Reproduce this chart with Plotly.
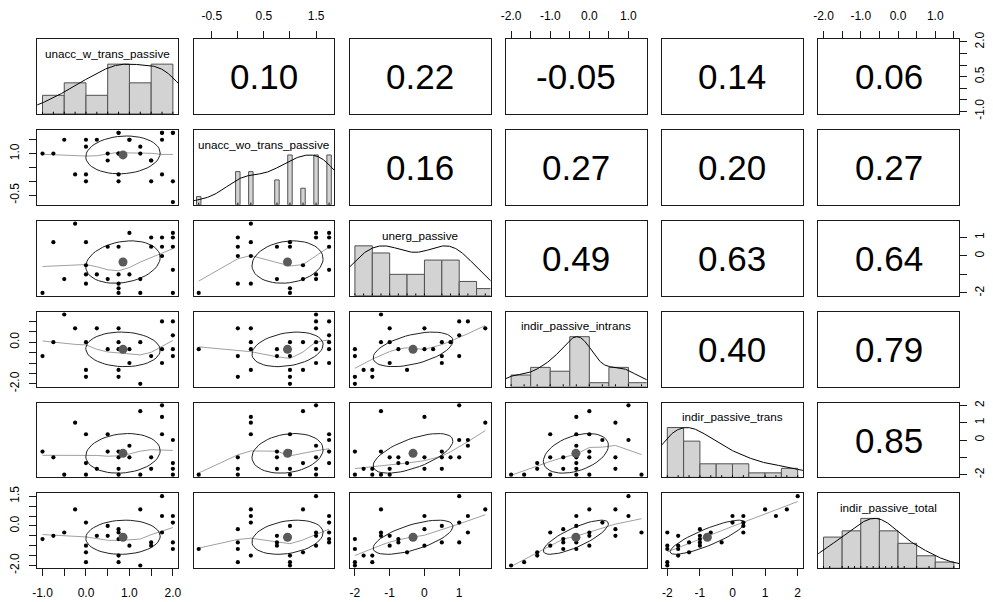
import numpy as np
import plotly.graph_objects as go

# ---------------- data ----------------
var_names = ["unacc_w_trans_passive", "unacc_wo_trans_passive", "unerg_passive",
             "indir_passive_intrans", "indir_passive_trans", "indir_passive_total"]

unacc_w_trans_passive = [-1, -0.75, -0.5, -0.25, 0, 0, 0, 0, 0.25, 0.5, 0.5,
                         0.75, 0.75, 0.75, 0.75, 0.75, 0.75, 1, 1, 1.25, 1.25,
                         1.5, 1.5, 1.5, 1.75, 1.75, 1.75, 1.75, 2, 2, 2, 2]
unacc_wo_trans_passive = [-0.75, 0, 0, 0, 0, 0.25, 0.25, 0.25, 0.25, 0.75, 0.75, 0.75,
                          1, 1, 1, 1, 1, 1, 1.25, 1.25, 1.5, 1.5, 1.5, 1.5, 1.5, 1.5,
                          1.75, 1.75, 1.75, 1.75, 1.75, 1.75]
unerg_passive = [-2, -2, -2, -2, -1.75, -1.5, -1.5, -1.25, -1.25, -1.25, -1, -1, -1,
                 -0.75, -0.75, -0.5, -0.25, 0, 0, 0.5, 0.5, 0.5, 0.5, 0.5, 0.75, 0.75,
                 1, 1, 1, 1.25, 1.25, 1.75]
indir_passive_intrans = [-2, -2, -1.667, -1.333, -1.333, -1, -1, -1, -0.667, -0.667, -0.667,
                         -0.667, -0.333, -0.333, -0.333, -0.333, -0.333, -0.333, -0.333,
                         -0.333, 0, 0, 0, 0, 0, 0.333, 0.667, 0.667, 0.667, 1, 1, 1.333]
indir_passive_trans = [-2, -2, -2, -2, -2, -2, -1.667, -1.667, -1.667, -1.667, -1.667,
                       -1.333, -1.333, -1.333, -1, -1, -1, -1, -1, -0.667, -0.667, -0.667,
                       -0.333, 0, 0, 0.333, 0.333, 0.333, 1, 1.333, 1.667, 2]
indir_passive_total = [-2, -2, -1.833, -1.833, -1.5, -1.333, -1.333, -1.167, -1.167, -1, -1,
                       -0.833, -0.833, -0.833, -0.667, -0.667, -0.5, -0.5, -0.5, -0.333,
                       -0.333, -0.333, -0.167, -0.167, 0, 0.167, 0.167, 0.5, 0.5, 0.833,
                       0.833, 1.5]

# correlations, upper triangle read row by row
corr_labels = ["0.10", "0.22", "-0.05", "0.14", "0.06",
               "0.16", "0.27", "0.20", "0.27",
               "0.49", "0.63", "0.64",
               "0.40", "0.79",
               "0.85"]

# scatter panels: (x = column variable, y = row variable); repeated pairs are overlapping cases
pts_2_1 = [(-1, 1), (-0.75, 1), (-0.5, 1.5), (-0.25, 0.25), (0, 1.5), (0, 1.25), (0, 0.25),
           (0, 0), (0.25, 1.5), (0.5, 1), (0.5, 0.75), (0.75, 1.75), (0.75, 1.75), (0.75, 1),
           (0.75, 1), (0.75, 0.25), (0.75, 0), (1, 1.5), (1, 1.5), (1.25, 1.25), (1.25, 1),
           (1.5, 0.75), (1.5, 0.75), (1.5, 0), (1.75, 1.75), (1.75, 1.75), (1.75, 1.5),
           (1.75, 0.25), (2, 1.75), (2, 1.75), (2, 0), (2, -0.75)]
pts_3_1 = [(-1, -2), (-0.75, 0.75), (-0.5, -1.25), (-0.25, 1.75), (0, 0.75), (0, -0.5),
           (0, -1), (0, -1.5), (0.25, -1), (0.5, 0.5), (0.5, -1.25), (0.75, 0.5), (0.75, -1),
           (0.75, -1.5), (0.75, -1.75), (0.75, -2), (1, 1.25), (1, -1), (1.25, -1.25),
           (1.25, -2), (1.5, 1), (1.5, 0.5), (1.75, 1), (1.75, 0.5), (1.75, 0), (2, 1.25),
           (2, 1), (2, 0.5), (2, -0.75), (2, -2)]
pts_3_2 = [(0.25, 1.75), (0, 1), (0, 0.5), (0.25, 0.75), (0, 0), (0.25, 0), (0.75, 0.5),
           (1, 0.75), (1, 0.5), (1.5, 1.25), (1.5, 1), (1.75, 1.25), (1.75, 1), (1.75, 0.5),
           (1.25, -0.5), (1.5, -1), (1.5, -1.25), (1.75, -0.75), (0.75, -1.25), (1.25, -1.25),
           (0, -1.5), (0.25, -1.5), (1, -1.75), (1, -2), (-0.75, -2)]
pts_4_1 = [(-0.5, 1.333), (-0.25, 0.667), (0.25, 0.667), (0.75, 0.667), (-0.75, 0), (0, 0),
           (0.5, -0.333), (0.75, 0), (0.75, -0.333), (1, -0.333), (1.25, 0), (1.5, -0.667),
           (1.75, -0.333), (1.75, 1), (2, 1), (2, 0.333), (2, -0.333), (2, -0.667),
           (-1, -0.667), (1, -1), (1.75, -1), (0, -1.333), (0, -1.667), (0.75, -1.333),
           (0.75, -1.667), (1.25, -2)]
pts_4_2 = [(-0.75, -0.333), (0, 0.667), (0.25, 0.667), (0, -0.667), (0, -1.667), (0.25, 0),
           (0.25, -0.333), (0.25, -1.333), (0.75, -0.333), (0.75, -0.667), (1, 0), (1, -0.667),
           (1, -1.333), (1, -1.667), (1, -2), (1.25, 0), (1.25, -1.333), (1.5, 1.333), (1.5, 1),
           (1.5, 0.667), (1.5, 0), (1.5, -0.333), (1.5, -1), (1.75, 1), (1.75, 0.333),
           (1.75, 0), (1.75, -0.333), (1.75, -1)]
pts_4_3 = [(-1.25, 1.333), (-1, 0.667), (0, 0.667), (1, 1), (1.25, 1), (1.75, 0.667),
           (1, 0.333), (-1.25, 0), (-1, 0), (-0.75, -0.333), (0, -0.333), (0.25, -0.333),
           (0.5, 0), (0.75, 0), (-2, -0.333), (-2, -0.667), (0.5, -0.667), (1, -0.667),
           (0.5, -1), (-1, -1), (-1.75, -1.333), (-1.5, -1.333), (-1.5, -1.667),
           (-0.5, -1.333), (-2, -1.667), (-2, -2)]
pts_5_1 = [(1.75, 2), (1.25, 1.667), (1.75, 1.333), (-0.25, 1), (1.75, 0.333), (0, 0.333),
           (0.5, 0.333), (2, 0), (1, -0.333), (-1, -0.667), (0.5, -0.667), (0.75, -0.667),
           (-0.75, -1), (0.75, -1), (1, -1), (1.5, -1), (0, -1.333), (2, -1.333),
           (0.25, -1.667), (0.75, -1.667), (1.5, -1.667), (2, -1.667), (-0.5, -2), (0, -2),
           (0.75, -2), (1.25, -2), (2, -2)]
pts_5_2 = [(1.5, 2), (1.25, 1.667), (0.25, 1.333), (0.25, 1), (0.25, 0.333), (1, 0.333),
           (1.75, 0.333), (1.75, 0), (1.5, -0.333), (0.75, -0.667), (1, -0.667),
           (1.75, -0.667), (0, -1), (0.75, -1), (1.5, -1), (1.75, -1.333), (1.25, -1.333),
           (0, -1.667), (0.75, -1.667), (1, -1.667), (1.5, -1.667), (-0.75, -2), (0, -2),
           (1, -2), (1.5, -2)]
pts_5_3 = [(1, 2), (-1.25, 1.667), (0, 1.333), (1.75, 1), (1, 0), (1.25, 0), (1.25, -0.333),
           (0.5, -0.667), (-2, -0.667), (-1.25, -0.667), (0.5, -1), (0, -1), (-1, -1),
           (-0.75, -1), (0.75, -1), (1, -1), (-0.75, -1.333), (-0.5, -1.333), (0.5, -1.667),
           (0, -1.667), (-1.75, -1.667), (-1.5, -1.667), (-1, -1.667), (-2, -2), (-1.5, -2),
           (-1.25, -2), (-1, -2)]
pts_5_4 = [(-2, -2), (-1.667, -2), (-1.333, -1.333), (-1.333, -1.667), (-1, -1), (-1, -2),
           (-1, 0.333), (-0.667, -1), (-0.667, -1.667), (-0.333, 1.333), (-0.333, 0.333),
           (-0.333, -0.333), (-0.333, -0.667), (-0.333, -1), (-0.333, -1.333),
           (-0.333, -1.667), (-0.333, -2), (0, 1.667), (0, 0.333), (0, -0.667), (0, -1),
           (0, -2), (0.333, 0), (0.667, 1), (0.667, -1), (0.667, -1.667), (1, 2), (1, 0),
           (1.333, -2)]
pts_6_1 = [(1.75, 1.5), (1.25, 0.833), (-0.25, 0.833), (1.75, 0.5), (2, 0.5), (0, 0.167),
           (2, 0.167), (0.5, 0), (0.75, -0.167), (-0.5, -0.333), (1.75, -0.333),
           (0.75, -0.333), (-0.75, -0.5), (0.25, -0.5), (0.5, -0.5), (1, -1), (-1, -0.667),
           (0.75, -0.667), (1.5, -0.833), (2, -0.833), (0, -1), (1.5, -1), (2, -1.167),
           (0, -1.333), (0.75, -1.5), (0, -1.833), (0.75, -1.833), (1.25, -2)]
pts_6_2 = [(1.5, 1.5), (1.25, 0.833), (0.25, 0.833), (0.25, 0.5), (0.25, 0.167), (1.75, 0.5),
           (1.75, 0.167), (1.75, -0.333), (1.75, -0.667), (1.75, -0.833), (1.5, -0.333),
           (1.5, -0.5), (1.5, -1), (1, 0), (1, -1.5), (1, -1.833), (1, -2), (0.75, -0.5),
           (0.75, -0.833), (0.75, -1), (1.25, -1.333), (0, -0.167), (0, -0.833), (0, -1.167),
           (0, -1.833), (0.25, -1.5), (-0.75, -1.167)]
pts_6_3 = [(1, 1.5), (1.75, 0.833), (-1.25, 0.833), (0, 0.5), (1.25, 0.5), (0.5, 0),
           (1, 0.167), (-1.25, -0.333), (-1.25, -0.5), (-1, -0.5), (-0.75, -0.667),
           (-0.75, -0.833), (0, -0.167), (0.5, -0.833), (1.25, -0.333), (1, -0.833), (-1, -1),
           (0, -1), (-0.5, -1.333), (-2, -0.667), (-2, -1.167), (-1.75, -1.5), (-1.5, -1.5),
           (-1.5, -1.833), (-2, -1.833), (-2, -2)]
pts_6_4 = [(-2, -2), (-1.667, -1.833), (-1.333, -1.333), (-1.333, -1.5), (-1, -0.333),
           (-1, -1), (-0.667, -0.167), (-0.667, -0.667), (-0.667, -0.833), (-0.667, -1.167),
           (-0.333, 0.5), (-0.333, 0), (-0.333, -0.5), (-0.333, -0.667), (-0.333, -0.833),
           (-0.333, -1.167), (0, 0.833), (0, -0.333), (0, -0.5), (0, -1), (0.333, 0.167),
           (0.667, 0.833), (0.667, -0.167), (0.667, -0.5), (1, 1.5), (1, 0.5), (1.333, -0.333)]
pts_6_5 = [(-2, -0.333), (-2, -1), (-2, -1.167), (-2, -1.833), (-2, -2), (-1.667, -0.5),
           (-1.667, -1), (-1.667, -1.167), (-1.667, -1.5), (-1.333, -0.833), (-1.333, -1.333),
           (-1, -0.167), (-1, -0.5), (-1, -0.667), (-1, -0.833), (-1, -1), (-0.667, -0.333),
           (-0.333, -0.833), (0, 0.5), (0, 0.167), (0.333, 0.5), (0.333, 0.167), (0.333, 0),
           (0.333, -0.333), (1, 0.833), (1.333, 0.5), (1.667, 0.833), (2, 1.5)]

hist_step = 0.5

# ---------------- helpers ----------------
data = [np.array(v, float) for v in [unacc_w_trans_passive, unacc_wo_trans_passive, unerg_passive,
                                     indir_passive_intrans, indir_passive_trans, indir_passive_total]]
panels = {(2, 1): pts_2_1, (3, 1): pts_3_1, (3, 2): pts_3_2, (4, 1): pts_4_1, (4, 2): pts_4_2,
          (4, 3): pts_4_3, (5, 1): pts_5_1, (5, 2): pts_5_2, (5, 3): pts_5_3, (5, 4): pts_5_4,
          (6, 1): pts_6_1, (6, 2): pts_6_2, (6, 3): pts_6_3, (6, 4): pts_6_4, (6, 5): pts_6_5}

corr = {}
kk = 0
for i in range(6):
    for j in range(i + 1, 6):
        corr[(i, j)] = corr_labels[kk]
        kk += 1


def vrange(v):
    lo, hi = float(np.min(v)), float(np.max(v))
    s = hi - lo
    return [lo - 0.04 * s, hi + 0.04 * s]


def r_lowess(x, y, f=2 / 3, iters=3):
    x = np.asarray(x, float)
    y = np.asarray(y, float)
    o = np.argsort(x, kind="mergesort")
    x, y = x[o], y[o]
    n = len(x)
    ns = max(min(int(f * n + 1e-7), n), 2)
    rw = np.ones(n)
    ys = np.zeros(n)
    xr = x[-1] - x[0]
    for it in range(iters + 1):
        nleft, nright = 0, ns - 1
        for i in range(n):
            while nright < n - 1 and (x[i] - x[nleft]) > (x[nright + 1] - x[i]):
                nleft += 1
                nright += 1
            h = max(x[i] - x[nleft], x[nright] - x[i])
            d = np.abs(x - x[i])
            if h > 0:
                q = d / h
                w = np.where(q <= 0.999, np.where(q <= 0.001, 1.0, (1 - q ** 3) ** 3), 0.0)
            else:
                w = (d == 0).astype(float)
            w = w * rw
            sw = w.sum()
            if sw <= 0:
                ys[i] = y[i]
                continue
            w = w / sw
            if h > 0:
                a = (w * x).sum()
                b = x[i] - a
                c = (w * (x - a) ** 2).sum()
                if np.sqrt(c) > 0.001 * xr:
                    b = b / c
                    w = w * (b * (x - a) + 1)
            ys[i] = (w * y).sum()
        if it == iters:
            break
        res = y - ys
        cmad = 6 * np.median(np.abs(res))
        if cmad < 1e-7 * np.mean(np.abs(y)):
            break
        q = np.abs(res) / cmad
        rw = np.where(q <= 0.999, np.where(q <= 0.001, 1.0, (1 - q ** 2) ** 2), 0.0)
    return x, ys


def r_density(v):
    v = np.asarray(v, float)
    n = len(v)
    q1, q3 = np.percentile(v, [25, 75])
    bw = 1.06 * min(np.std(v, ddof=1), (q3 - q1) / 1.34) * n ** (-0.2)
    t = np.linspace(v.min() - 3 * bw, v.max() + 3 * bw, 512)
    d = np.exp(-0.5 * ((t[:, None] - v[None, :]) / bw) ** 2).sum(1)
    return t, d / d.max()


def ellipse(xm, ym, xs, ys, r, seg=51):
    ang = np.arange(seg + 1) * 2 * np.pi / seg
    th = np.sign(r) / np.sqrt(2) if abs(r) > 0 else 1 / np.sqrt(2)
    a, b = np.sqrt(1 + r), np.sqrt(1 - r)
    ex = np.cos(ang) * a * th - np.sin(ang) * b * th
    ey = np.cos(ang) * a * th + np.sin(ang) * b * th
    return ex * xs + xm, ey * ys + ym


# ---------------- layout geometry (pixels) ----------------
W, H = 993, 602
COL_L, COL_STEP, COL_W = 37.3, 156.2, 140.8
ROW_T, ROW_STEP, ROW_H = 39.2, 90.85, 74.8
FONT = "Liberation Sans, Arial, Helvetica, sans-serif"

fig = go.Figure()
layout = dict(width=W, height=H, margin=dict(l=0, r=0, t=0, b=0, pad=0),
              template="none", autosize=False,
              paper_bgcolor="white", plot_bgcolor="white", showlegend=False,
              font=dict(family=FONT, color="black"), annotations=[])


def axname(k, a):
    return (a + "axis") if k == 1 else f"{a}axis{k}"


def ref(k, a):
    return a if k == 1 else f"{a}{k}"


for r in range(6):
    for c in range(6):
        k = r * 6 + c + 1
        left = COL_L + c * COL_STEP
        top = ROW_T + r * ROW_STEP
        base = dict(showgrid=False, zeroline=False, showline=True, mirror=True,
                    linecolor="#1a1a1a", linewidth=1, ticks="", showticklabels=False,
                    fixedrange=True, automargin=False)
        layout[axname(k, "x")] = dict(base, domain=[left / W, (left + COL_W) / W],
                                      anchor=ref(k, "y"), range=vrange(data[c]))
        layout[axname(k, "y")] = dict(base, domain=[1 - (top + ROW_H) / H, 1 - top / H],
                                      anchor=ref(k, "x"),
                                      range=[0, 1.5] if r == c else vrange(data[r]))
        xr_, yr_ = ref(k, "x"), ref(k, "y")
        if r == c:
            v = data[r]
            uniq, cnt = np.unique(v, return_counts=True)
            if len(uniq) < 11:
                inter = np.min(np.diff(uniq)) * (len(uniq) - 1) / 41
                centers = uniq
                widths = np.full(len(uniq), 2 * inter)
                heights = cnt / cnt.max()
            else:
                e0 = np.floor(v.min() / hist_step) * hist_step
                e1 = np.ceil(v.max() / hist_step) * hist_step
                edges = np.arange(e0, e1 + hist_step / 2, hist_step)
                idx = np.searchsorted(edges, v, side="left") - 1
                idx[idx < 0] = 0
                counts = np.bincount(idx, minlength=len(edges) - 1)
                centers = (edges[:-1] + edges[1:]) / 2
                widths = np.diff(edges)
                heights = counts / counts.max()
            fig.add_trace(go.Bar(x=centers, y=heights, width=widths, xaxis=xr_, yaxis=yr_,
                                 marker=dict(color="#D3D3D3", line=dict(color="#505050", width=1)),
                                 hoverinfo="skip"))
            t, d = r_density(v)
            fig.add_trace(go.Scatter(x=t, y=d, mode="lines", xaxis=xr_, yaxis=yr_,
                                     line=dict(color="black", width=1), hoverinfo="skip"))
            rx, ry = [], []
            for u in uniq:
                rx += [u, u, None]
                ry += [0, 0.045, None]
            fig.add_trace(go.Scatter(x=rx, y=ry, mode="lines", xaxis=xr_, yaxis=yr_,
                                     line=dict(color="black", width=1), hoverinfo="skip"))
            layout["annotations"].append(dict(
                text=var_names[r], xref=f"{xr_} domain", yref=f"{yr_} domain", x=0.5, y=0.81,
                showarrow=False, font=dict(size=11.7, family=FONT, color="black"),
                xanchor="center", yanchor="middle"))
        elif r < c:
            # invisible anchor so the subplot (box and axes) is drawn
            fig.add_trace(go.Scatter(x=[float(np.mean(data[c]))], y=[float(np.mean(data[r]))],
                                     mode="markers", marker=dict(opacity=0, size=1),
                                     xaxis=xr_, yaxis=yr_, hoverinfo="skip"))
            layout["annotations"].append(dict(
                text=corr[(r, c)], xref=f"{xr_} domain", yref=f"{yr_} domain", x=0.5, y=0.5,
                showarrow=False, font=dict(size=35, family=FONT, color="black"),
                xanchor="center", yanchor="middle"))
        else:
            pts = panels[(r + 1, c + 1)]
            px = [p[0] for p in pts]
            py = [p[1] for p in pts]
            lx, ly = r_lowess(px, py)
            fig.add_trace(go.Scatter(x=lx, y=ly, mode="lines", xaxis=xr_, yaxis=yr_,
                                     line=dict(color="#a0a0a0", width=1), hoverinfo="skip"))
            xv, yv = data[c], data[r]
            rr = float(corr[(c, r)])
            ex, ey = ellipse(xv.mean(), yv.mean(), xv.std(ddof=1), yv.std(ddof=1), rr)
            fig.add_trace(go.Scatter(x=ex, y=ey, mode="lines", xaxis=xr_, yaxis=yr_,
                                     line=dict(color="#222222", width=1), hoverinfo="skip"))
            fig.add_trace(go.Scatter(x=px, y=py, mode="markers", xaxis=xr_, yaxis=yr_,
                                     marker=dict(color="black", size=4.2), hoverinfo="skip"))
            fig.add_trace(go.Scatter(x=[xv.mean()], y=[yv.mean()], mode="markers",
                                     xaxis=xr_, yaxis=yr_,
                                     marker=dict(color="#5a5a5a", size=9), hoverinfo="skip"))


def set_ticks(k, a, vals, texts, side, angle, size, standoff):
    ax = layout[axname(k, a)]
    ax.update(tickmode="array", tickvals=vals, ticktext=texts, ticks="outside", ticklen=7,
              tickwidth=1, tickcolor="#1a1a1a", showticklabels=True, side=side,
              tickangle=angle, tickfont=dict(size=size, family=FONT, color="black"),
              ticklabelstandoff=standoff)


def kof(r, c):
    return (r - 1) * 6 + c


TS = 12
# top axes (columns 2, 4, 6)
set_ticks(kof(1, 2), "x", [-0.5, 0, 0.5, 1, 1.5], ["-0.5", "", "0.5", "", "1.5"], "top", 0, TS, 6)
set_ticks(kof(1, 4), "x", [-2, -1.5, -1, -0.5, 0, 0.5, 1],
          ["-2.0", "", "-1.0", "", "0.0", "", "1.0"], "top", 0, TS, 6)
set_ticks(kof(1, 6), "x", [-2, -1.5, -1, -0.5, 0, 0.5, 1, 1.5],
          ["-2.0", "", "-1.0", "", "0.0", "", "1.0", ""], "top", 0, TS, 6)
# bottom axes (columns 1, 3, 5)
set_ticks(kof(6, 1), "x", [-1, -0.5, 0, 0.5, 1, 1.5, 2],
          ["-1.0", "", "0.0", "", "1.0", "", "2.0"], "bottom", 0, TS, 6)
set_ticks(kof(6, 3), "x", [-2, -1, 0, 1], ["-2", "-1", "0", "1"], "bottom", 0, TS, 6)
set_ticks(kof(6, 5), "x", [-2, -1, 0, 1, 2], ["-2", "-1", "0", "1", "2"], "bottom", 0, TS, 6)
# left axes (rows 2, 4, 6)
set_ticks(kof(2, 1), "y", [-0.5, 0, 0.5, 1, 1.5], ["-0.5", "", "", "1.0", ""], "left", -90, TS, 6)
set_ticks(kof(4, 1), "y", [-2, -1.5, -1, -0.5, 0, 0.5, 1],
          ["-2.0", "", "", "", "0.0", "", ""], "left", -90, TS, 6)
set_ticks(kof(6, 1), "y", [-2, -1.5, -1, -0.5, 0, 0.5, 1, 1.5],
          ["-2.0", "", "", "", "0.0", "", "", "1.5"], "left", -90, TS, 6)
# right axes (rows 1, 3, 5)
set_ticks(kof(1, 6), "y", [-1, -0.5, 0, 0.5, 1, 1.5, 2],
          ["-1.0", "", "", "0.5", "", "", "2.0"], "right", -90, TS, 2)
set_ticks(kof(3, 6), "y", [-2, -1, 0, 1], ["-2", "", "0", "1"], "right", -90, TS, 2)
set_ticks(kof(5, 6), "y", [-2, -1, 0, 1, 2], ["-2", "", "0", "1", "2"], "right", -90, TS, 2)

fig.update_layout(**layout)
fig.write_html("out.html", config={"displayModeBar": False, "staticPlot": True},
               post_script="document.body.style.margin='0';document.body.style.overflow='hidden';")
